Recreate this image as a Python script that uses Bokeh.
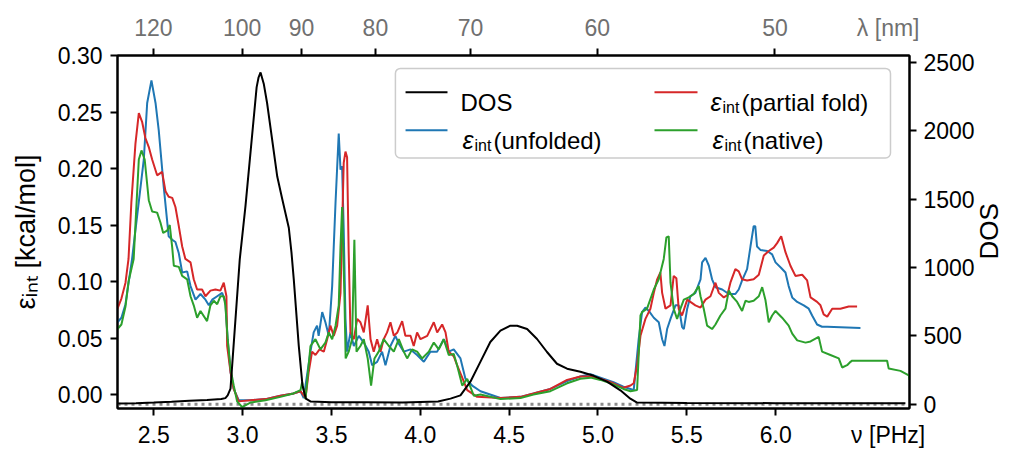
from math import pi
from bokeh.plotting import figure
from bokeh.models import (Range1d, LinearAxis, FixedTicker, CustomJSTickFormatter,
                          NumeralTickFormatter, Span, Label, BoxAnnotation, Arrow)
from bokeh.embed import file_html
from bokeh.resources import INLINE

FONT = "Liberation Sans"

# ---------------- data ----------------
nu_dos = [2.296, 2.40, 2.50, 2.60, 2.70, 2.80, 2.88, 2.903, 2.916, 2.932, 2.984, 3.016,
          3.079, 3.090, 3.101, 3.119, 3.138, 3.195, 3.223, 3.260, 3.275, 3.288, 3.316,
          3.337, 3.356, 3.384, 3.50, 3.70, 3.90, 4.10, 4.170, 4.226, 4.282, 4.338, 4.394,
          4.451, 4.507, 4.545, 4.601, 4.657, 4.713, 4.769, 4.826, 4.901, 4.976, 5.051,
          5.126, 5.182, 5.220, 5.50, 6.00, 6.50, 6.73]
dos = [5, 8, 12, 18, 25, 32, 38, 45, 65, 114, 1059, 1446,
       2318, 2390, 2425, 2343, 2200, 1664, 1500, 1290, 1110, 913, 429,
       138, 41, 20, 15, 15, 12, 20, 41, 65, 165, 310, 455,
       538, 574, 574, 550, 477, 382, 296, 260, 238, 208, 165,
       102, 41, 12, 10, 8, 8, 8]

nu_unfolded = [2.296, 2.318, 2.341, 2.378, 2.444, 2.463, 2.487, 2.510, 2.528, 2.556, 2.584,
               2.604, 2.622, 2.641, 2.660, 2.688, 2.707, 2.735, 2.763, 2.791, 2.810, 2.829,
               2.857, 2.885, 2.903, 2.916, 2.932, 2.950, 2.978, 3.044, 3.129, 3.213, 3.286,
               3.326, 3.344, 3.382, 3.400, 3.419, 3.428, 3.448, 3.466, 3.485, 3.504, 3.523,
               3.541, 3.551, 3.560, 3.569, 3.579, 3.588, 3.607, 3.626, 3.654, 3.682, 3.710,
               3.729, 3.757, 3.785, 3.804, 3.832, 3.860, 3.879, 3.907, 3.945, 3.982, 4.020,
               4.057, 4.095, 4.132, 4.160, 4.188, 4.226, 4.254, 4.292, 4.339, 4.451, 4.564,
               4.637, 4.732, 4.826, 4.901, 4.958, 5.014, 5.087, 5.143, 5.183, 5.201, 5.229,
               5.248, 5.267, 5.286, 5.314, 5.342, 5.361, 5.374, 5.389, 5.408, 5.436, 5.454,
               5.473, 5.483, 5.502, 5.520, 5.548, 5.577, 5.586, 5.605, 5.624, 5.642, 5.661,
               5.699, 5.736, 5.773, 5.792, 5.811, 5.839, 5.858, 5.876, 5.885, 5.895, 5.914,
               5.952, 5.980, 5.999, 6.031, 6.055, 6.073, 6.093, 6.121, 6.158, 6.186, 6.205,
               6.233, 6.261, 6.290, 6.477]
eps_unfolded = [0.064, 0.068, 0.080, 0.120, 0.208, 0.258, 0.278, 0.258, 0.234, 0.184, 0.140,
                0.137, 0.135, 0.125, 0.108, 0.109, 0.096, 0.084, 0.089, 0.084, 0.079, 0.084,
                0.087, 0.090, 0.082, 0.049, 0.020, 0.005, -0.005, -0.005, -0.004, -0.001, 0.001,
                0.003, -0.003, 0.038, 0.055, 0.061, 0.052, 0.073, 0.064, 0.052, 0.096, 0.170,
                0.231, 0.199, 0.202, 0.146, 0.067, 0.038, 0.055, 0.043, 0.052, 0.046, 0.038,
                0.026, 0.029, 0.038, 0.026, 0.043, 0.052, 0.045, 0.038, 0.040, 0.035, 0.029,
                0.038, 0.038, 0.049, 0.038, 0.040, 0.032, 0.014, 0.008, 0.003, -0.003, -0.002,
                0.001, 0.005, 0.012, 0.016, 0.018, 0.015, 0.011, 0.007, 0.005, 0.004, 0.049,
                0.073, 0.077, 0.074, 0.068, 0.064, 0.049, 0.043, 0.058, 0.067, 0.079, 0.079,
                0.060, 0.058, 0.076, 0.087, 0.090, 0.102, 0.117, 0.121, 0.114, 0.102, 0.095,
                0.093, 0.089, 0.089, 0.093, 0.101, 0.111, 0.131, 0.149, 0.149, 0.131, 0.128,
                0.127, 0.124, 0.117, 0.112, 0.108, 0.096, 0.086, 0.082, 0.079, 0.076, 0.070,
                0.062, 0.060, 0.060, 0.059]

nu_partial = [2.296, 2.318, 2.341, 2.358, 2.374, 2.397, 2.416, 2.435, 2.453, 2.472, 2.491,
              2.519, 2.547, 2.566, 2.584, 2.604, 2.622, 2.641, 2.660, 2.678, 2.707, 2.725,
              2.744, 2.772, 2.791, 2.819, 2.847, 2.875, 2.894, 2.909, 2.913, 2.932, 2.950,
              2.978, 3.044, 3.129, 3.213, 3.286, 3.326, 3.354, 3.372, 3.391, 3.410, 3.433,
              3.457, 3.476, 3.494, 3.513, 3.532, 3.551, 3.569, 3.579, 3.588, 3.597, 3.607,
              3.626, 3.645, 3.663, 3.682, 3.704, 3.720, 3.738, 3.757, 3.776, 3.794, 3.813,
              3.832, 3.851, 3.871, 3.898, 3.916, 3.945, 3.963, 3.982, 4.001, 4.039, 4.076,
              4.095, 4.123, 4.142, 4.160, 4.188, 4.207, 4.236, 4.264, 4.320, 4.451, 4.564,
              4.637, 4.732, 4.826, 4.901, 4.958, 5.014, 5.087, 5.143, 5.183, 5.201, 5.220,
              5.239, 5.267, 5.295, 5.314, 5.333, 5.351, 5.361, 5.380, 5.408, 5.426, 5.441,
              5.454, 5.473, 5.502, 5.520, 5.548, 5.577, 5.605, 5.633, 5.661, 5.680, 5.708,
              5.728, 5.745, 5.773, 5.792, 5.811, 5.839, 5.876, 5.905, 5.933, 5.961, 5.989,
              6.008, 6.031, 6.055, 6.083, 6.111, 6.149, 6.177, 6.196, 6.233, 6.252, 6.270,
              6.290, 6.318, 6.364, 6.411, 6.458]
eps_partial = [0.076, 0.085, 0.099, 0.120, 0.170, 0.222, 0.249, 0.241, 0.227, 0.219, 0.208,
               0.194, 0.197, 0.180, 0.175, 0.174, 0.166, 0.149, 0.131, 0.120, 0.117, 0.102,
               0.093, 0.093, 0.087, 0.092, 0.093, 0.092, 0.099, 0.087, 0.043, 0.020, 0.005,
               -0.006, -0.005, -0.004, -0.001, 0.001, 0.003, -0.003, 0.020, 0.038, 0.035, 0.040,
               0.038, 0.049, 0.061, 0.052, 0.061, 0.090, 0.205, 0.215, 0.210, 0.126, 0.055,
               0.049, 0.067, 0.064, 0.055, 0.079, 0.049, 0.038, 0.049, 0.038, 0.049, 0.055,
               0.064, 0.052, 0.055, 0.065, 0.052, 0.052, 0.043, 0.055, 0.049, 0.052, 0.064,
               0.055, 0.062, 0.055, 0.038, 0.034, 0.026, 0.015, 0.004, -0.002, -0.003, -0.002,
               0.001, 0.005, 0.013, 0.016, 0.016, 0.014, 0.010, 0.006, 0.008, 0.010, 0.026,
               0.052, 0.067, 0.076, 0.090, 0.102, 0.108, 0.090, 0.076, 0.079, 0.105, 0.103,
               0.076, 0.070, 0.084, 0.082, 0.079, 0.077, 0.084, 0.087, 0.099, 0.090, 0.086,
               0.088, 0.099, 0.111, 0.109, 0.102, 0.101, 0.102, 0.106, 0.123, 0.127, 0.130,
               0.134, 0.140, 0.126, 0.114, 0.105, 0.106, 0.101, 0.086, 0.082, 0.079, 0.071,
               0.069, 0.076, 0.076, 0.078, 0.078]

nu_native = [2.296, 2.318, 2.341, 2.358, 2.387, 2.416, 2.431, 2.449, 2.472, 2.491, 2.519,
             2.538, 2.553, 2.575, 2.590, 2.604, 2.613, 2.641, 2.660, 2.688, 2.707, 2.725,
             2.744, 2.763, 2.800, 2.819, 2.838, 2.857, 2.875, 2.894, 2.903, 2.916, 2.932,
             2.950, 2.969, 2.997, 3.044, 3.129, 3.213, 3.286, 3.326, 3.335, 3.354, 3.382,
             3.410, 3.438, 3.466, 3.485, 3.504, 3.523, 3.541, 3.551, 3.560, 3.573, 3.580,
             3.597, 3.616, 3.629, 3.641, 3.663, 3.682, 3.704, 3.723, 3.742, 3.766, 3.794,
             3.823, 3.851, 3.879, 3.907, 3.926, 3.954, 3.982, 4.010, 4.048, 4.076, 4.104,
             4.132, 4.160, 4.188, 4.207, 4.236, 4.264, 4.301, 4.339, 4.451, 4.564, 4.637,
             4.732, 4.826, 4.901, 4.958, 5.014, 5.087, 5.143, 5.183, 5.220, 5.239, 5.248,
             5.276, 5.314, 5.342, 5.370, 5.385, 5.398, 5.408, 5.426, 5.445, 5.464, 5.483,
             5.511, 5.539, 5.567, 5.577, 5.595, 5.614, 5.642, 5.661, 5.689, 5.717, 5.736,
             5.755, 5.783, 5.811, 5.830, 5.848, 5.876, 5.905, 5.924, 5.942, 5.961, 5.980,
             5.999, 6.036, 6.073, 6.093, 6.121, 6.168, 6.196, 6.242, 6.261, 6.308, 6.355,
             6.374, 6.402, 6.421, 6.430, 6.627, 6.636, 6.702, 6.749, 6.753]
eps_native = [0.058, 0.062, 0.078, 0.100, 0.120, 0.208, 0.216, 0.208, 0.172, 0.162, 0.161,
              0.152, 0.143, 0.145, 0.150, 0.130, 0.114, 0.113, 0.105, 0.102, 0.087, 0.079,
              0.068, 0.074, 0.065, 0.079, 0.083, 0.080, 0.087, 0.087, 0.079, 0.049, 0.023,
              0.008, -0.006, -0.011, -0.007, -0.005, -0.002, 0.001, 0.004, 0.011, -0.004, 0.043,
              0.049, 0.040, 0.046, 0.055, 0.049, 0.061, 0.079, 0.131, 0.166, 0.087, 0.032,
              0.038, 0.049, 0.137, 0.038, 0.043, 0.049, 0.032, 0.008, 0.032, 0.038, 0.049,
              0.043, 0.038, 0.049, 0.038, 0.032, 0.040, 0.038, 0.032, 0.038, 0.046, 0.040,
              0.049, 0.035, 0.036, 0.026, 0.008, 0.014, -0.001, 0.000, -0.004, -0.003, 0.000,
              0.003, 0.010, 0.014, 0.015, 0.013, 0.009, 0.005, 0.003, 0.004, 0.070, 0.073,
              0.076, 0.093, 0.102, 0.120, 0.139, 0.140, 0.099, 0.076, 0.067, 0.076, 0.084,
              0.086, 0.089, 0.096, 0.087, 0.076, 0.061, 0.058, 0.062, 0.070, 0.076, 0.092,
              0.087, 0.082, 0.074, 0.083, 0.082, 0.083, 0.087, 0.095, 0.084, 0.064, 0.070,
              0.074, 0.068, 0.061, 0.054, 0.048, 0.046, 0.047, 0.051, 0.038, 0.035, 0.032,
              0.024, 0.026, 0.029, 0.030, 0.030, 0.023, 0.021, 0.017, 0.013]

nu_ticks = [2.5, 3.0, 3.5, 4.0, 4.5, 5.0, 5.5, 6.0]
eps_ticks = [0.0, 0.05, 0.10, 0.15, 0.20, 0.25, 0.30]
dos_ticks = [0, 500, 1000, 1500, 2000, 2500]
lambda_ticks_nm = [120, 100, 90, 80, 70, 60, 50]
C_NM_PHZ = 299.792458
nu_of_lambda = [C_NM_PHZ / lam for lam in lambda_ticks_nm]
UNIT_POS = 6.633          # where the unit labels sit on the top / bottom axes

BLUE, RED, GREEN = "#1f77b4", "#d62728", "#2ca02c"
GREY_TXT = "#707070"

# ---------------- figure ----------------
p = figure(width=1009, height=450, output_backend="svg", toolbar_location=None,
           x_range=Range1d(2.296, 6.753), y_range=Range1d(-0.0123, 0.30),
           min_border_left=117, min_border_right=100, min_border_top=55,
           min_border_bottom=40)
p.extra_y_ranges = {"dos": Range1d(-31, 2549)}
p.xgrid.visible = False
p.ygrid.visible = False
p.outline_line_color = "black"
p.outline_line_width = 2
p.outline_line_alpha = 1.0
p.background_fill_color = "white"
p.border_fill_color = "white"


def style_axis(ax, standoff, ticks=True, labels=True, line=True):
    ax.axis_line_color = "black" if line else None
    ax.axis_line_width = 2
    ax.major_tick_line_color = "black" if ticks else None
    ax.major_tick_line_width = 2
    ax.major_tick_out = 7 if ticks else 0
    ax.major_tick_in = 0
    ax.minor_tick_line_color = None
    ax.minor_tick_out = 0
    ax.minor_tick_in = 0
    ax.major_label_text_font = FONT
    ax.major_label_text_font_size = "23px"
    ax.major_label_text_color = "black" if labels else None
    ax.major_label_standoff = standoff
    ax.axis_label_text_font = FONT
    ax.axis_label_text_font_style = "normal"
    ax.axis_label_text_font_size = "27px"
    ax.axis_label_text_color = "black"


# bottom: tick marks (inner) + labels incl. unit (outer)
bottom_ticks = p.below[0]
bottom_ticks.ticker = FixedTicker(ticks=nu_ticks)
style_axis(bottom_ticks, 0, labels=False)
bottom_labels = LinearAxis(
    ticker=FixedTicker(ticks=nu_ticks + [UNIT_POS]),
    formatter=CustomJSTickFormatter(
        code="if (tick > 6.5) { return 'ν [PHz]'; } return tick.toFixed(1);"))
style_axis(bottom_labels, 6, ticks=False, line=False)
p.add_layout(bottom_labels, "below")

# left axis
left = p.left[0]
left.ticker = FixedTicker(ticks=eps_ticks)
left.formatter = NumeralTickFormatter(format="0.00")
style_axis(left, 8)
left.axis_label = "εᵢₙₜ [kcal/mol]"
left.axis_label_standoff = 14

# right axis (DOS)
right = LinearAxis(y_range_name="dos", ticker=FixedTicker(ticks=dos_ticks),
                   formatter=NumeralTickFormatter(format="0"))
style_axis(right, 7)
p.add_layout(right, "right")
# title of the right axis, reading upwards, placed in the right side panel
p.add_layout(Label(x=7.200, y=0.1444, text="DOS", angle=pi / 2,
                   text_font=FONT, text_font_size="26px", text_color="black",
                   text_align="center", text_baseline="alphabetic"), "right")

# top: wavelength axis
top_ticks = LinearAxis(ticker=FixedTicker(ticks=nu_of_lambda))
style_axis(top_ticks, 0, labels=False)
p.add_layout(top_ticks, "above")
top_labels = LinearAxis(
    ticker=FixedTicker(ticks=nu_of_lambda + [UNIT_POS]),
    formatter=CustomJSTickFormatter(
        code="if (tick > 6.5) { return 'λ [nm]'; } "
             "return Math.round(299.792458 / tick).toFixed(0);"))
style_axis(top_labels, 8, ticks=False, line=False)
top_labels.major_label_text_color = GREY_TXT
p.add_layout(top_labels, "above")

# zero line of DOS (dotted)
p.add_layout(Span(location=0, dimension="width", y_range_name="dos",
                  line_color="#8c8c8c", line_width=3, line_dash="3 4",
                  level="underlay"))

# curves
p.line(nu_unfolded, eps_unfolded, line_color=BLUE, line_width=2)
p.line(nu_partial, eps_partial, line_color=RED, line_width=2)
p.line(nu_native, eps_native, line_color=GREEN, line_width=2)
p.line(nu_dos, dos, y_range_name="dos", line_color="black", line_width=2)

# ---------------- legend (manual, for the subscripts) ----------------
p.add_layout(BoxAnnotation(left=3.860, right=6.646, top=0.2886, bottom=0.2093,
                           fill_color="white", fill_alpha=0.8,
                           line_color="#cccccc", line_width=1.5, line_alpha=1.0,
                           border_radius=5))


def sample(x0, x1, y, color):
    p.add_layout(Arrow(end=None, x_start=x0, y_start=y, x_end=x1, y_end=y,
                       line_color=color, line_width=2))


def txt(x, y, s, size="24px", style="normal", color="black", align="left"):
    p.add_layout(Label(x=x, y=y, text=s, text_font=FONT, text_font_size=size,
                       text_font_style=style, text_color=color, text_align=align,
                       text_baseline="alphabetic"))


sample(3.917, 4.153, 0.2674, "black")
sample(3.917, 4.153, 0.2339, BLUE)
sample(5.318, 5.560, 0.2674, RED)
sample(5.318, 5.560, 0.2339, GREEN)

txt(4.226, 0.2586, "DOS")
txt(4.237, 0.2251, "ε", size="25px", style="italic")
txt(4.305, 0.2207, "int", size="16px")
txt(4.412, 0.2251, "(unfolded)")
txt(5.633, 0.2586, "ε", size="25px", style="italic")
txt(5.701, 0.2542, "int", size="16px")
txt(5.808, 0.2586, "(partial fold)")
txt(5.644, 0.2251, "ε", size="25px", style="italic")
txt(5.712, 0.2207, "int", size="16px")
txt(5.819, 0.2251, "(native)")

open("out.html", "w").write(file_html(p, INLINE))
